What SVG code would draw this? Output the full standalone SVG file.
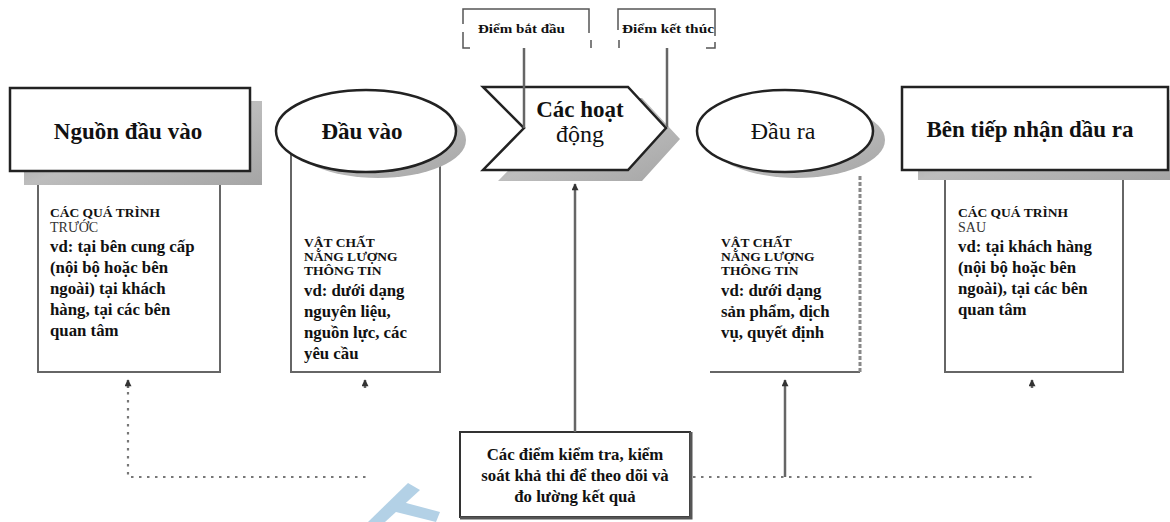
<svg xmlns="http://www.w3.org/2000/svg" width="1170" height="522" viewBox="0 0 1170 522" font-family="'Liberation Serif', 'DejaVu Serif', serif">
<defs>
<linearGradient id="sh" x1="0" y1="0" x2="1" y2="1">
<stop offset="0" stop-color="#8f8f8f"/>
<stop offset="0.5" stop-color="#bdbdbd"/>
<stop offset="1" stop-color="#a5a5a5"/>
</linearGradient>
<marker id="ah" viewBox="0 0 10 10" refX="9" refY="5" markerUnits="userSpaceOnUse" markerWidth="8" markerHeight="7" orient="auto">
<path d="M0,0 L10,5 L0,10 Z" fill="#333"/>
</marker>
</defs>
<style>
.box{fill:#fff;stroke:#222;stroke-width:2.5}
.shadow{fill:url(#sh);stroke:none}
.tb{fill:none;stroke:#666;stroke-width:2}
.t{fill:#111}
.big{font-size:23px;font-weight:bold}
.reg{font-size:24px;font-weight:normal}
.cap{font-size:13.5px;font-weight:bold}
.capr{font-size:14px;font-weight:normal;fill:#333}
.body{font-size:16.8px;font-weight:bold}
.small{font-size:12.5px;font-weight:bold}
.dot{fill:none;stroke:#777;stroke-width:2.2;stroke-dasharray:2.5 5.5}
.solid{fill:none;stroke:#666;stroke-width:2.5}
.brk{fill:none;stroke:#555;stroke-width:1.5}
</style>
<g id="watermark">
<path d="M408,483 L420,490 L385,522 L368,522 Z" fill="#b3d1e6"/>
<path d="M395,500 L440,512 L436,522 L388,510 Z" fill="#b3d1e6"/>
</g>
<g id="node-nguon">
<rect x="38" y="180" width="182" height="192" class="tb"/>
<rect x="24" y="101" width="238" height="84" class="shadow"/>
<rect x="10" y="88" width="240" height="83" class="box"/>
<text x="128" y="139" text-anchor="middle" class="t big">Nguồn đầu vào</text>
<text x="50" y="217" class="t cap">CÁC QUÁ TRÌNH</text>
<text x="50" y="232" class="t capr">TRƯỚC</text>
<text x="50" y="252" class="t body">vd: tại bên cung cấp</text>
<text x="50" y="273" class="t body">(nội bộ hoặc bên</text>
<text x="50" y="294" class="t body">ngoài) tại khách</text>
<text x="50" y="315" class="t body">hàng, tại các bên</text>
<text x="50" y="336" class="t body">quan tâm</text>
</g>
<g id="node-dauvao">
<path d="M291,150 V372 H440 V160" class="tb"/>
<ellipse cx="378" cy="140" rx="88" ry="38" class="shadow"/>
<ellipse cx="366" cy="131" rx="90" ry="41" class="box"/>
<text x="362" y="139" text-anchor="middle" class="t big">Đầu vào</text>
<text x="304" y="247" class="t cap">VẬT CHẤT</text>
<text x="304" y="261" class="t cap">NĂNG LƯỢNG</text>
<text x="304" y="275" class="t cap">THÔNG TIN</text>
<text x="304" y="296" class="t body">vd: dưới dạng</text>
<text x="304" y="317" class="t body">nguyên liệu,</text>
<text x="304" y="338" class="t body">nguồn lực, các</text>
<text x="304" y="359" class="t body">yêu cầu</text>
</g>
<g id="node-hoatdong">
<polygon points="498,98 642,98 680,139 642,181 498,181 539,139" class="shadow"/>
<polygon points="483,87 628,87 666,128 628,170 483,170 524,128" class="box"/>
<text x="580" y="117" text-anchor="middle" class="t big">Các hoạt</text>
<text x="580" y="142" text-anchor="middle" class="t reg">động</text>
</g>
<g id="node-batdau">
<path d="M463,24 V9 H589 V33" class="brk"/>
<path d="M463,32 V48 H470" class="brk"/>
<path d="M591,40 V48" class="brk" stroke-width="3"/>
<text x="478" y="33" textLength="87" lengthAdjust="spacingAndGlyphs" class="t small">Điểm bắt đầu</text>
</g>
<g id="node-ketthuc">
<path d="M618,30 V9 H715 V36" class="brk"/>
<path d="M619,40 V48" class="brk" stroke-width="3"/>
<path d="M715,42 V48 H706" class="brk"/>
<text x="622" y="33" textLength="92" lengthAdjust="spacingAndGlyphs" class="t small">Điểm kết thúc</text>
</g>
<g id="node-daura">
<path d="M710,372 H860" class="tb"/>
<path d="M860,176 V372" fill="none" stroke="#888" stroke-width="3" stroke-dasharray="4 2"/>
<ellipse cx="797" cy="140" rx="88" ry="38" class="shadow"/>
<ellipse cx="785" cy="131" rx="88" ry="41" class="box"/>
<text x="783" y="139" text-anchor="middle" class="t reg">Đầu ra</text>
<text x="721" y="247" class="t cap">VẬT CHẤT</text>
<text x="721" y="261" class="t cap">NĂNG LƯỢNG</text>
<text x="721" y="275" class="t cap">THÔNG TIN</text>
<text x="721" y="296" class="t body">vd: dưới dạng</text>
<text x="721" y="317" class="t body">sản phẩm, dịch</text>
<text x="721" y="338" class="t body">vụ, quyết định</text>
</g>
<g id="node-bentiepnhan">
<rect x="945" y="175" width="178" height="197" class="tb"/>
<rect x="918" y="100" width="252" height="80" class="shadow"/>
<rect x="902" y="87" width="266" height="83" class="box"/>
<text x="1030" y="137" text-anchor="middle" class="t big" font-size="22.5">Bên tiếp nhận dầu ra</text>
<text x="958" y="217" class="t cap">CÁC QUÁ TRÌNH</text>
<text x="958" y="232" class="t capr">SAU</text>
<text x="958" y="252" class="t body">vd: tại khách hàng</text>
<text x="958" y="273" class="t body">(nội bộ hoặc bên</text>
<text x="958" y="294" class="t body">ngoài), tại các bên</text>
<text x="958" y="315" class="t body">quan tâm</text>
</g>
<g id="node-kiemtra">
<rect x="460" y="432" width="230" height="85" fill="#fff" stroke="#333" stroke-width="2"/>
<path d="M691,432 V518 H460" fill="none" stroke="#555" stroke-width="3"/>
<text x="575" y="460" text-anchor="middle" class="t body">Các điểm kiểm tra, kiểm</text>
<text x="575" y="481" text-anchor="middle" class="t body">soát khả thi để theo dõi và</text>
<text x="575" y="502" text-anchor="middle" class="t body">đo lường kết quả</text>
</g>
<g id="connectors">
<path d="M524,48 V128" class="solid"/>
<path d="M667,48 V127" class="solid"/>
<path d="M575,432 V184" class="solid" marker-end="url(#ah)"/>
<path d="M785,477 V380" class="solid" marker-end="url(#ah)"/>
<path d="M128,388 V380" class="solid" marker-end="url(#ah)"/>
<path d="M365,388 V380" class="solid" marker-end="url(#ah)"/>
<path d="M1032,388 V380" class="solid" marker-end="url(#ah)"/>
<path d="M128,392 V477 H367" class="dot"/>
<path d="M693,477 H1035" class="dot"/>
</g>
</svg>
